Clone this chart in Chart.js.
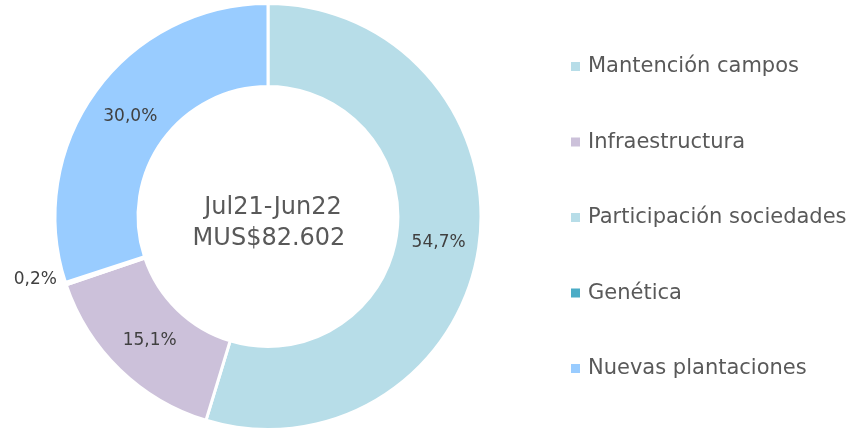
<!DOCTYPE html>
<html>
<head>
<meta charset="utf-8">
<script src="https://cdn.jsdelivr.net/npm/chart.js@4.4.0/dist/chart.umd.min.js"></script>
<style>
  html, body { margin: 0; padding: 0; background: #fff; }
  #wrap { width: 858px; height: 431px; position: relative; }
</style>
</head>
<body>
<div id="wrap"><canvas id="donut" width="858" height="431"></canvas></div>
<script>
const categories = ['Mantención campos', 'Infraestructura', 'Participación sociedades', 'Genética', 'Nuevas plantaciones'];
const shares = [54.7, 15.1, 0.0, 0.2, 30.0];
const sliceColors = ['#B7DDE8', '#CCC1DA', '#B7DDE8', '#4BACC6', '#99CCFF'];
const centerLines = ['Jul21-Jun22', 'MUS$82.602'];

const FONT = '"DejaVu Sans", sans-serif';

// labels on slices, center text and right-side legend
const decorations = {
    id: 'decorations',
    afterDraw(chart) {
        const ctx = chart.ctx;
        const meta = chart.getDatasetMeta(0);
        ctx.save();
        ctx.textAlign = 'center';
        ctx.textBaseline = 'middle';

        // value labels
        ctx.font = '17px ' + FONT;
        ctx.fillStyle = '#404040';
        meta.data.forEach((arc, i) => {
            if (shares[i] <= 0) return;
            const txt = shares[i].toFixed(1).replace('.', ',') + '%';
            if (shares[i] < 1) {
                const mid = (arc.startAngle + arc.endAngle) / 2;
                const r = arc.outerRadius + 30;
                ctx.fillText(txt, arc.x + Math.cos(mid) * r - 2, arc.y + Math.sin(mid) * r - 13);
            } else {
                const p = arc.tooltipPosition();
                ctx.fillText(txt, p.x + 1, p.y + 1);
            }
        });

        // center text
        const c = meta.data[0];
        ctx.font = '24px ' + FONT;
        ctx.fillStyle = '#595959';
        ctx.fillText(centerLines[0], c.x + 5, c.y - 9);
        ctx.fillText(centerLines[1], c.x + 1, c.y + 22);

        // legend
        ctx.textAlign = 'left';
        ctx.font = '21px ' + FONT;
        categories.forEach((name, i) => {
            const y = 66 + i * 75.5;
            ctx.fillStyle = sliceColors[i];
            ctx.fillRect(571, y - 4, 9, 9);
            ctx.fillStyle = '#595959';
            ctx.fillText(name, 588, y + 1);
        });
        ctx.restore();
    }
};

new Chart(document.getElementById('donut'), {
    type: 'doughnut',
    data: {
        labels: categories,
        datasets: [{
            data: shares,
            backgroundColor: sliceColors,
            borderColor: '#ffffff',
            borderWidth: 3
        }]
    },
    options: {
        responsive: false,
        animation: false,
        cutout: '61%',
        layout: { padding: { left: 53, right: 375, top: 2, bottom: 0 } },
        plugins: {
            legend: { display: false },
            tooltip: { enabled: false }
        }
    },
    plugins: [decorations]
});
</script>
</body>
</html>
